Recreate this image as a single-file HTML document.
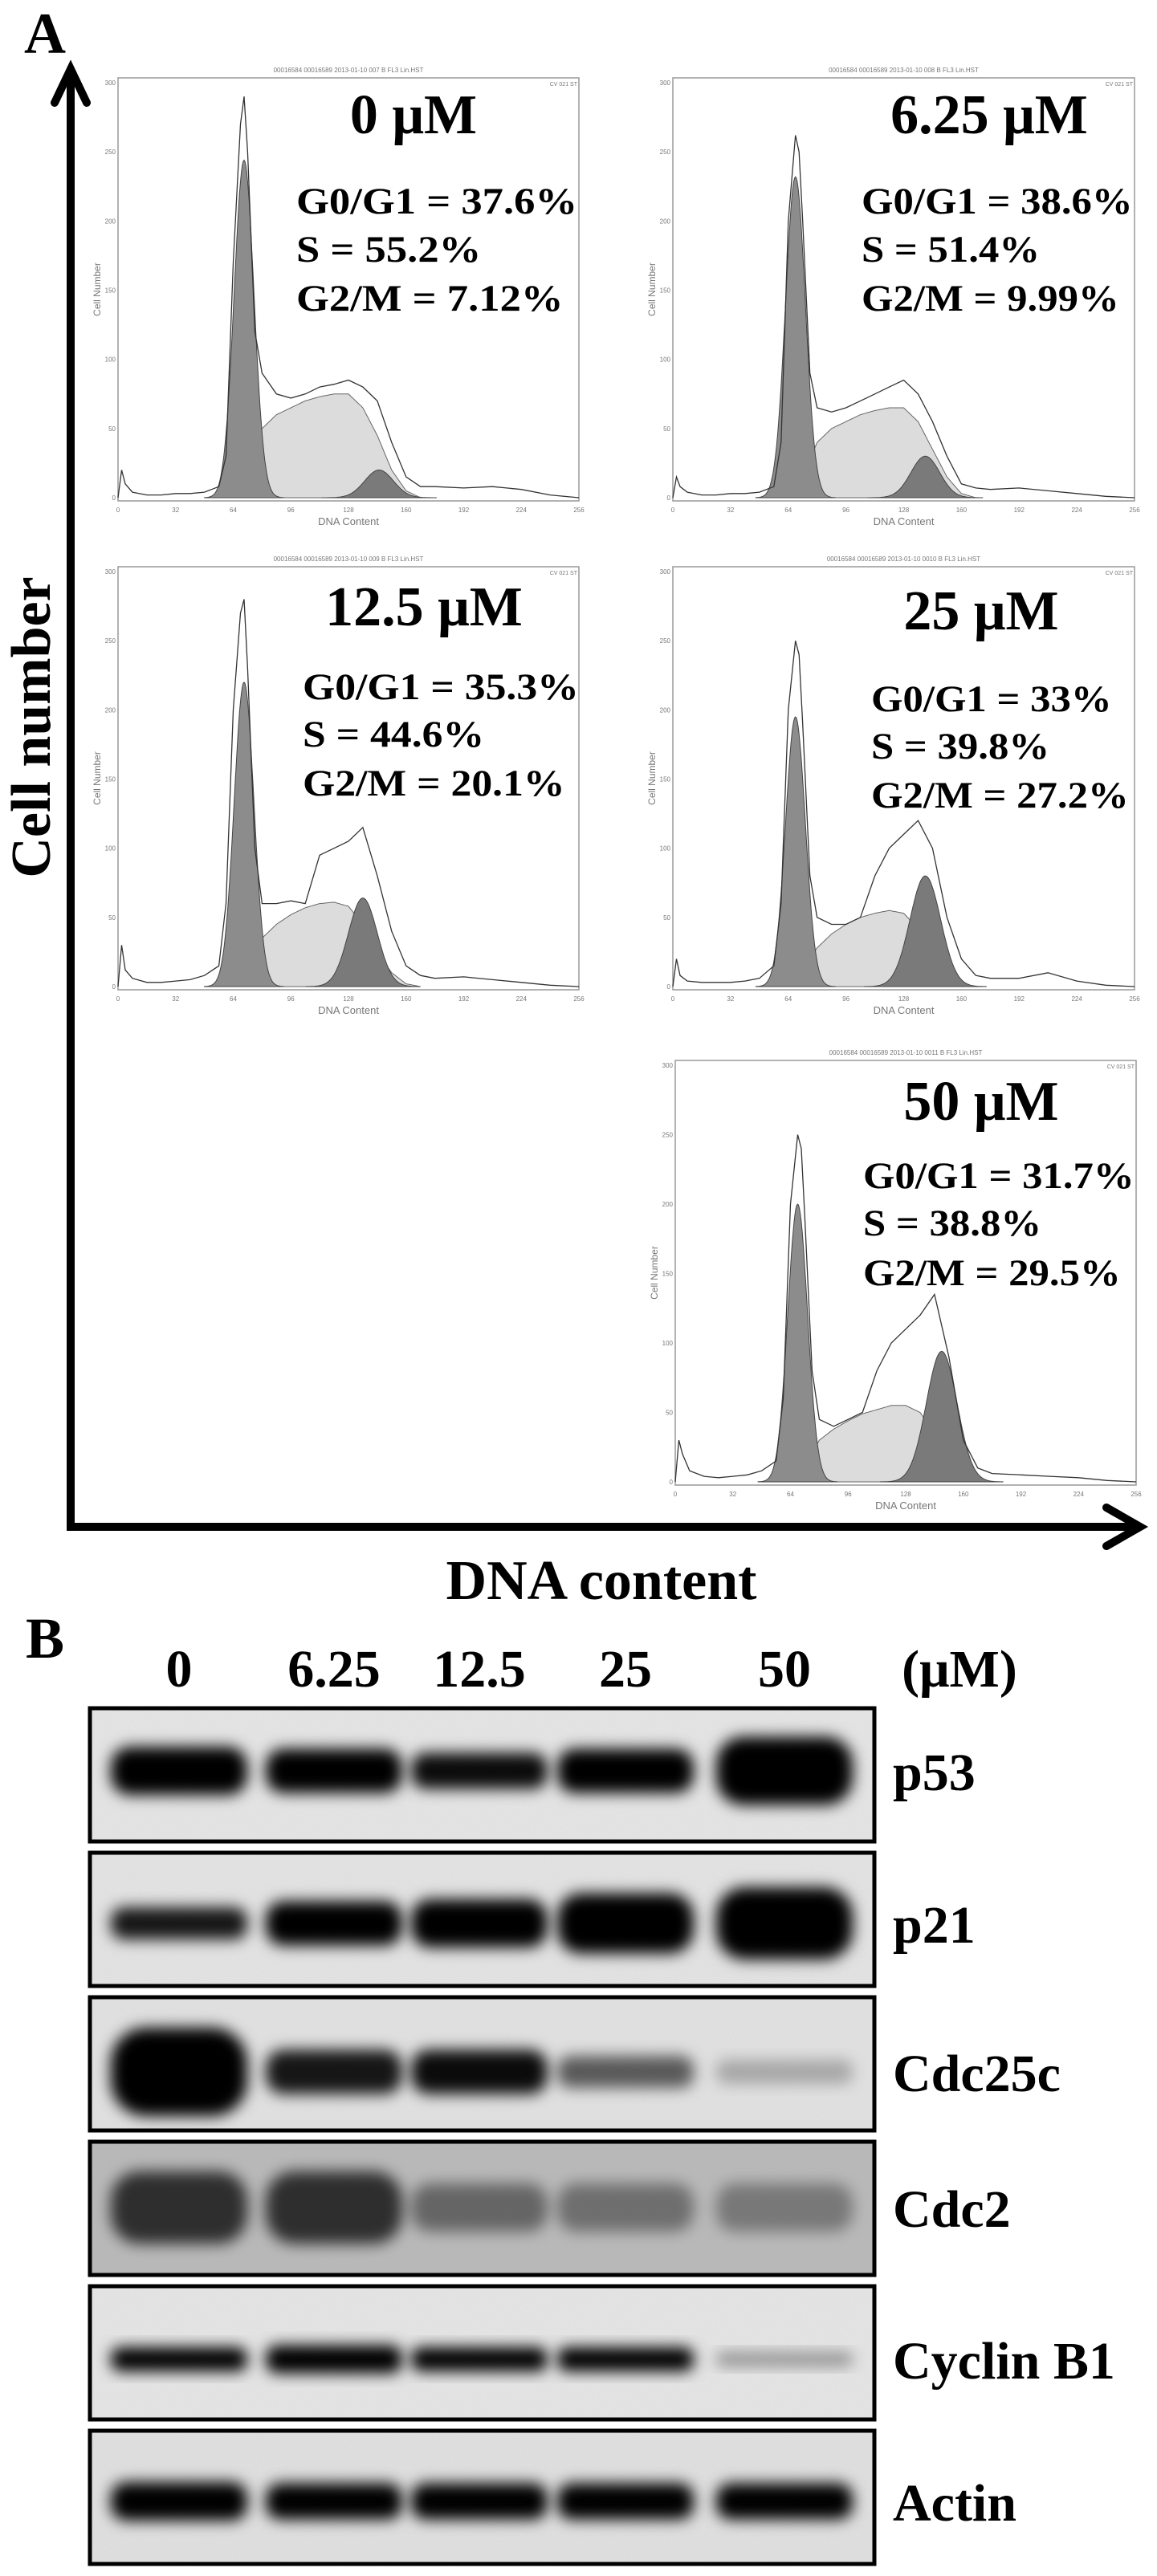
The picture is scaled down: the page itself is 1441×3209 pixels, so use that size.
<!DOCTYPE html>
<html><head><meta charset="utf-8"><title>Cell cycle and western blot figure</title>
<style>
html,body{margin:0;padding:0;background:#fff;}
svg{display:block;}
.big{font-family:"Liberation Serif",serif;font-weight:bold;fill:#000;}
.small{font-family:"Liberation Sans",sans-serif;fill:#777;}
</style></head>
<body>
<svg id="fig" width="1441" height="3209" viewBox="0 0 1441 3209" xmlns="http://www.w3.org/2000/svg">
<defs>
<filter id="blur" x="-50%" y="-50%" width="200%" height="200%"><feGaussianBlur stdDeviation="9"/></filter>
<filter id="noise"><feTurbulence type="fractalNoise" baseFrequency="0.9" numOctaves="2" seed="3"/><feColorMatrix type="matrix" values="0 0 0 0 0.5 0 0 0 0 0.5 0 0 0 0 0.5 0 0 0 0.25 0"/></filter>
</defs>
<rect width="1441" height="3209" fill="#fff"/>
<text class="big" x="30" y="66" font-size="72">A</text>
<text class="big" font-size="70" text-anchor="middle" transform="translate(62,906) rotate(-90)">Cell number</text>
<text class="big" x="749" y="1992" font-size="70" text-anchor="middle">DNA content</text>
<g id="axes">
<line x1="88" y1="86" x2="88" y2="1907" stroke="#000" stroke-width="10"/>
<polyline points="68,128 88,86 108,128" fill="none" stroke="#000" stroke-width="10" stroke-linecap="round"/>
<line x1="83" y1="1902" x2="1415" y2="1902" stroke="#000" stroke-width="10"/>
<polyline points="1378,1878 1420,1902 1378,1926" fill="none" stroke="#000" stroke-width="10" stroke-linecap="round"/>
</g>
<g id="hists"></g>
<g id="labels">
<text class="big" x="515" y="166" font-size="70" text-anchor="middle">0 μM</text>
<text class="big" font-size="47" transform="translate(369,0) scale(1.12,1) translate(-369,0)"><tspan x="369" y="266">G0/G1 = 37.6%</tspan><tspan x="369" y="326">S = 55.2%</tspan><tspan x="369" y="387">G2/M = 7.12%</tspan></text>
<text class="big" x="1232" y="166" font-size="70" text-anchor="middle">6.25 μM</text>
<text class="big" font-size="47" transform="translate(1073,0) scale(1.08,1) translate(-1073,0)"><tspan x="1073" y="266">G0/G1 = 38.6%</tspan><tspan x="1073" y="326">S = 51.4%</tspan><tspan x="1073" y="387">G2/M = 9.99%</tspan></text>
<text class="big" x="528" y="779" font-size="70" text-anchor="middle">12.5 μM</text>
<text class="big" font-size="47" transform="translate(377,0) scale(1.1,1) translate(-377,0)"><tspan x="377" y="871">G0/G1 = 35.3%</tspan><tspan x="377" y="930">S = 44.6%</tspan><tspan x="377" y="991">G2/M = 20.1%</tspan></text>
<text class="big" x="1222" y="784" font-size="70" text-anchor="middle">25 μM</text>
<text class="big" font-size="47" transform="translate(1085,0) scale(1.08,1) translate(-1085,0)"><tspan x="1085" y="886">G0/G1 = 33%</tspan><tspan x="1085" y="945">S = 39.8%</tspan><tspan x="1085" y="1006">G2/M = 27.2%</tspan></text>
<text class="big" x="1222" y="1395" font-size="70" text-anchor="middle">50 μM</text>
<text class="big" font-size="47" transform="translate(1075,0) scale(1.08,1) translate(-1075,0)"><tspan x="1075" y="1480">G0/G1 = 31.7%</tspan><tspan x="1075" y="1539">S = 38.8%</tspan><tspan x="1075" y="1601">G2/M = 29.5%</tspan></text>
</g>
<text class="big" x="32" y="2065" font-size="72">B</text>
<g id="lanes-hdr">
<text class="big" x="223" y="2101" font-size="66" text-anchor="middle">0</text>
<text class="big" x="416" y="2101" font-size="66" text-anchor="middle">6.25</text>
<text class="big" x="597" y="2101" font-size="66" text-anchor="middle">12.5</text>
<text class="big" x="779" y="2101" font-size="66" text-anchor="middle">25</text>
<text class="big" x="977" y="2101" font-size="66" text-anchor="middle">50</text>
<text class="big" x="1195" y="2101" font-size="66" text-anchor="middle">(μM)</text>
</g>
<g id="blots"></g>
</svg>
<script>
// ---------- Flow cytometry histogram data ----------
const panelNames = ["0uM","6.25uM","12.5uM","25uM","50uM"];
const rawChannels = [0,2,4,8,16,24,32,40,48,56,60,64,68,70,72,76,80,88,96,104,112,120,128,136,144,152,160,168,176,192,208,224,240,256];
const raw0   = [0,20,10,4,2,2,3,3,4,8,30,170,270,290,250,120,90,75,72,75,80,82,85,80,70,40,15,8,8,7,8,6,2,0];
const raw625 = [0,15,8,4,2,2,3,3,4,8,40,200,262,250,200,90,65,62,65,70,75,80,85,75,55,30,10,7,6,7,5,3,1,0];
const raw125 = [0,30,12,6,3,3,4,5,8,15,60,200,270,280,230,100,60,60,62,60,95,100,105,115,80,40,15,8,6,7,5,3,1,0];
const raw25  = [0,20,8,4,3,3,3,4,6,15,60,200,250,240,190,80,50,45,45,50,80,100,110,120,100,50,20,8,6,6,10,4,1,0];
const raw50  = [0,30,20,8,4,3,4,5,8,15,60,200,250,240,190,80,45,40,45,50,80,100,110,120,135,90,30,10,6,5,4,3,1,0];
const sChannels = [64,72,80,88,96,104,112,120,128,136,144,152,160,168];
const s0   = [0,20,50,60,65,70,73,75,75,65,45,20,5,0];
const s625 = [0,15,40,50,55,60,63,65,65,55,35,15,3,0];
const s125 = [0,15,35,45,52,57,60,61,58,45,25,10,2,0];
const s25  = [0,12,28,38,45,50,53,55,53,42,25,10,2,0];
const s50  = [0,10,30,38,44,49,52,55,55,50,35,15,3,0];
// G1 and G2 peaks: [height, centre channel, sd]
const g1Peaks = [[244,70,5.5],[232,68,5.5],[220,70,5.5],[195,68,5.5],[200,68,5.5]];
const g2Peaks = [[20,145,8],[30,140,8],[64,136,8],[80,140,8.5],[94,148,8.5]];
const yTicks = [0,50,100,150,200,250,300];
const xTicks = [0,32,64,96,128,160,192,224,256];

const raws = [raw0,raw625,raw125,raw25,raw50];
const sProfiles = [s0,s625,s125,s25,s50];
const boxes = [[147,97,721,624],[838,97,1413,624],[147,706,721,1233],[838,706,1413,1233],[841,1321,1415,1850]];

const NS="http://www.w3.org/2000/svg";
function mk(tag,attrs,parent){const e=document.createElementNS(NS,tag);for(const k in attrs)e.setAttribute(k,attrs[k]);parent.appendChild(e);return e;}
function interp(xs,ys,x){if(x<=xs[0])return ys[0];for(let i=1;i<xs.length;i++){if(x<=xs[i]){const t=(x-xs[i-1])/(xs[i]-xs[i-1]);return ys[i-1]+t*(ys[i]-ys[i-1]);}}return ys[ys.length-1];}
function gauss(p,x){return p[0]*Math.exp(-0.5*Math.pow((x-p[1])/p[2],2));}

const hists=document.getElementById('hists');
boxes.forEach((b,pi)=>{
  const [x0,y0,x1,y1]=b;
  const g=mk('g',{},hists);
  
  
  const base=y1-4;
  const xs=c=>x0+ (c/256)*(x1-x0);
  const ys=v=>base-(v/300)*(base-y0-6);
  const fr=mk('rect',{x:x0,y:y0,width:x1-x0,height:y1-y0,fill:'#fff',stroke:'#999','stroke-width':1.5},g);
  
  
  const hdr=mk('text',{x:(x0+x1)/2,y:y0-7,'font-size':8,'text-anchor':'middle',class:'small',fill:'#555'},g);
  hdr.textContent='00016584 00016589 2013-01-10 00'+(7+pi)+' B FL3 Lin.HST';
  
  
  const cv=mk('text',{x:x1-2,y:y0+10,'font-size':7,'text-anchor':'end',class:'small'},g);
  cv.textContent='CV 021 ST';
  yTicks.forEach(t=>{
    const tl=mk('text',{x:x0-3,y:ys(t)+3,'font-size':8,'text-anchor':'end',class:'small'},g);
    tl.textContent=t;
    
    
  });
  xTicks.forEach(t=>{
    const tl=mk('text',{x:xs(t),y:y1+14,'font-size':8,'text-anchor':'middle',class:'small'},g);
    tl.textContent=t;
    
    
  });
  const yl=mk('text',{'font-size':12,'text-anchor':'middle',class:'small',transform:`translate(${x0-22},${(y0+y1)/2}) rotate(-90)`},g);
  yl.textContent='Cell Number';
  
  
  const xl=mk('text',{x:(x0+x1)/2,y:y1+30,'font-size':13,'text-anchor':'middle',class:'small'},g);
  xl.textContent='DNA Content';
  
  
  const sp=sProfiles[pi];
  let d=`M${xs(sChannels[0])},${ys(0)}`;
  for(let c=sChannels[0];c<=sChannels[sChannels.length-1];c+=1)d+=` L${xs(c).toFixed(1)},${ys(interp(sChannels,sp,c)).toFixed(1)}`;
  d+=` L${xs(sChannels[sChannels.length-1])},${ys(0)} Z`;
  const sEl=mk('path',{d:d,fill:'#dcdcdc',stroke:'#666','stroke-width':1},g);
  
  
  [[g1Peaks[pi],'g1-peak','#8c8c8c'],[g2Peaks[pi],'g2-peak','#7a7a7a']].forEach(([p,nm,col])=>{
    let dd=`M${xs(p[1]-4*p[2])},${ys(0)}`;
    for(let c=p[1]-4*p[2];c<=p[1]+4*p[2];c+=0.5)dd+=` L${xs(c).toFixed(1)},${ys(gauss(p,c)).toFixed(1)}`;
    dd+=` L${xs(p[1]+4*p[2])},${ys(0)} Z`;
    const el=mk('path',{d:dd,fill:col,stroke:'#444','stroke-width':1},g);
    
    
  });
  const r=raws[pi];
  const pts=rawChannels.map((c,i)=>xs(c).toFixed(1)+','+ys(r[i]).toFixed(1)).join(' ');
  const rl=mk('polyline',{points:pts,fill:'none',stroke:'#333','stroke-width':1.3},g);
  
  
});

// ---------- Western blot data ----------
const proteins = ["p53","p21","Cdc25c","Cdc2","Cyclin B1","Actin"];
const laneConc = ["0","6.25","12.5","25","50"];
const p53Int = [1,1,0.95,1,1];
const p21Int = [0.9,1,1,1,1];
const cdc25cInt = [1,0.9,0.95,0.6,0.25];
const cdc2Int = [0.75,0.75,0.45,0.4,0.35];
const cyclinInt = [1,1,1,1,0.35];
const actinInt = [1,1,1,1,1];
const p53Thick = [60,55,45,55,85];
const p21Thick = [40,55,60,75,90];
const cdc25cThick = [110,55,55,40,30];
const cdc2Thick = [90,90,60,60,60];
const cyclinThick = [30,35,30,30,18];
const actinThick = [48,45,45,45,45];

const intens=[p53Int,p21Int,cdc25cInt,cdc2Int,cyclinInt,actinInt];
const thick=[p53Thick,p21Thick,cdc25cThick,cdc2Thick,cyclinThick,actinThick];
const laneX=[223,416,597,779,977];
const bandOffset=[80,90,95,84,93,90];
const bgCol=['#e8e8e8','#e6e6e6','#e4e4e4','#b8b8b8','#e8e8e8','#e2e2e2'];
const blots=document.getElementById('blots');
proteins.forEach((pr,ri)=>{
  const top=2126+ri*180;
  const g=mk('g',{},blots);
  
  
  const cp=mk('clipPath',{id:'cp'+ri},g);
  mk('rect',{x:110,y:top,width:981,height:170},cp);
  const inner=mk('g',{'clip-path':`url(#cp${ri})`},g);
  mk('rect',{x:110,y:top,width:981,height:170,fill:bgCol[ri]},inner);
  mk('rect',{x:110,y:top,width:981,height:170,filter:'url(#noise)'},inner);
  intens[ri].forEach((v,li)=>{
    const h=thick[ri][li];
    const w=170;
    const band=mk('rect',{x:laneX[li]-w/2,y:top+bandOffset[ri]-h/2,width:w,height:h,rx:h/2.5,fill:'#000','fill-opacity':v,filter:'url(#blur)'},inner);
    
    
  });
  const fr=mk('rect',{x:112,y:top+2,width:977,height:166,fill:'none',stroke:'#000','stroke-width':5},g);
  
  
  const lb=mk('text',{x:1112,y:top+bandOffset[ri]+24,'font-size':66,class:'big'},g);
  lb.textContent=pr;
  
  
});
</script>
</body></html>
